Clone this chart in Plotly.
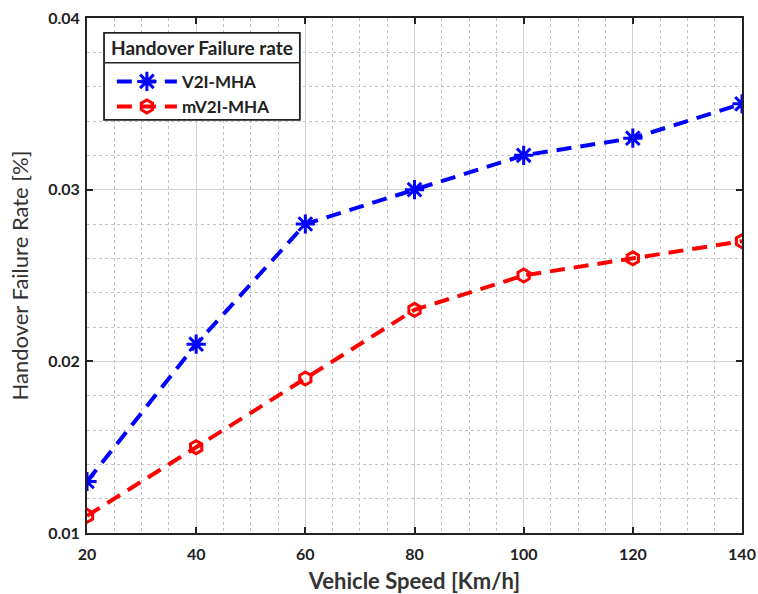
import plotly.graph_objects as go

speed = [20, 40, 60, 80, 100, 120, 140]
v2i_mha = [0.013, 0.021, 0.028, 0.030, 0.032, 0.033, 0.035]
mv2i_mha = [0.011, 0.015, 0.019, 0.023, 0.025, 0.026, 0.027]
legend_title = "Handover Failure rate"

FONT = "Lato"
TXT = "#222222"

fig = go.Figure()
fig.add_trace(go.Scatter(
    x=speed, y=v2i_mha, name="V2I-MHA", mode="lines+markers",
    line=dict(color="#0000ff", width=4, dash="15px,9px"),
    marker=dict(symbol="asterisk-open", size=16, color="#0000ff",
                line=dict(color="#0000ff", width=3)),
))
fig.add_trace(go.Scatter(
    x=speed, y=mv2i_mha, name="mV2I-MHA", mode="lines+markers",
    line=dict(color="#ff0000", width=4, dash="15px,9px"),
    marker=dict(symbol="hexagon-open", size=13, color="#ff0000",
                line=dict(color="#ff0000", width=3)),
))

axis_common = dict(
    showline=True, linecolor="#222", linewidth=2, mirror="ticks",
    ticks="inside", ticklen=6, tickwidth=2, tickcolor="#222",
    showgrid=True, gridcolor="#d2d2d2", gridwidth=1.2,
    zeroline=False, automargin=False, ticklabeloverflow="allow",
    tickfont=dict(family=FONT, size=16, color=TXT, weight="bold"),
)

fig.update_xaxes(
    range=[20, 140], dtick=20, tick0=20, ticklabelstandoff=6,
    title=dict(text="Vehicle Speed [Km/h]", font=dict(family=FONT, size=22, color="#333", weight="bold"), standoff=14),
    minor=dict(dtick=5, showgrid=True, gridcolor="#c4c4c4", griddash="dot", gridwidth=1.2, ticks=""),
    **axis_common,
)
fig.update_yaxes(
    range=[0.01, 0.04], dtick=0.01, tick0=0.01, tickformat=".2f", ticklabelstandoff=2,
    title=dict(text="Handover Failure Rate [%]", font=dict(family=FONT, size=22, color="#333"), standoff=13),
    minor=dict(dtick=0.002, showgrid=True, gridcolor="#c4c4c4", griddash="dot", gridwidth=1.2, ticks=""),
    **axis_common,
)

# legend box geometry (paper coords)
bx0, bx1, by0, by1, bsep = 0.026, 0.325, 0.802, 0.971, 0.913

fig.update_layout(
    width=758, height=594,
    margin=dict(l=87, r=16, t=18, b=61),
    paper_bgcolor="white", plot_bgcolor="white",
    legend=dict(
        x=bx0 + 0.012, y=bsep - 0.002, xanchor="left", yanchor="top",
        bgcolor="rgba(0,0,0,0)", borderwidth=0,
        font=dict(family=FONT, size=17, color=TXT, weight="bold"),
        tracegroupgap=0, itemwidth=60,
    ),
    showlegend=True,
)

fig.add_shape(type="rect", xref="paper", yref="paper",
              x0=bx0, x1=bx1, y0=by0, y1=by1, layer="above",
              fillcolor="white", line=dict(color="#222", width=1.8))
fig.add_shape(type="line", xref="paper", yref="paper",
              x0=bx0, x1=bx1, y0=bsep, y1=bsep, layer="above",
              line=dict(color="#222", width=1.5))
fig.add_annotation(xref="paper", yref="paper", x=(bx0 + bx1) / 2, y=(by1 + bsep) / 2,
                   xanchor="center", yanchor="middle",
                   text=legend_title, showarrow=False,
                   font=dict(family=FONT, size=19, color=TXT, weight="bold"))

fig.write_html(
    "out.html",
    config={"displayModeBar": False},
    post_script="document.body.style.margin='0';document.body.style.overflow='hidden';",
)
